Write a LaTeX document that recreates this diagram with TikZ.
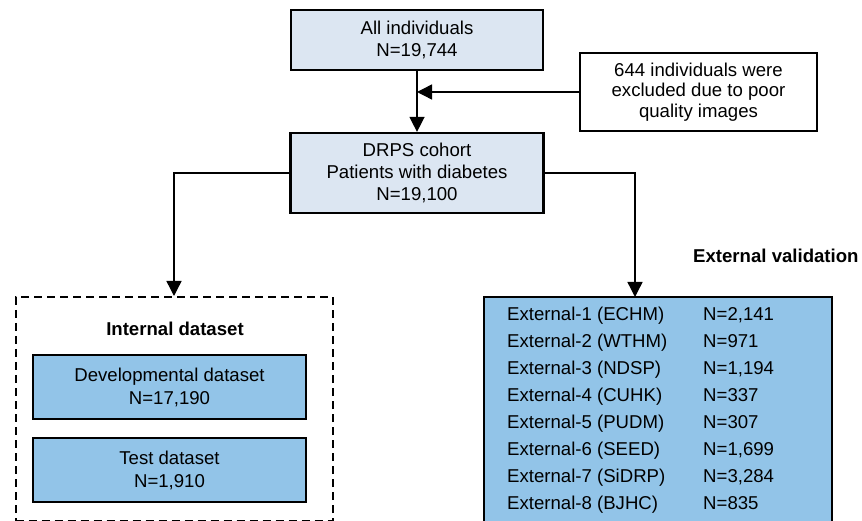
\documentclass[tikz,border=0pt]{standalone}
\usepackage{fontspec}
\setmainfont{Liberation Sans}
\usetikzlibrary{arrows.meta}
\definecolor{lightbox}{RGB}{220,230,242}
\definecolor{darkbox}{RGB}{146,196,232}
\begin{document}
\begin{tikzpicture}[x=1pt,y=-1pt,
 box/.style={draw=black, line width=2.2pt, align=center, inner sep=0pt, font=\fontsize{18.6}{22}\selectfont},
 topbox/.style={box, fill=lightbox},
 subbox/.style={box, fill=darkbox, line width=2pt},
 conn/.style={line width=1.4pt},
 arr/.style={conn, -{Triangle[length=15pt,width=15pt]}},
 lbl/.style={font=\fontsize{18.6}{22}\selectfont, inner sep=0pt, anchor=base west},
 ttl/.style={font=\bfseries\fontsize{18.6}{22}\selectfont, inner sep=0pt}]
\useasboundingbox (0,0) rectangle (862,521);
\clip (0,0) rectangle (862,521);

\node[topbox, minimum width=252pt, minimum height=60pt] (all) at (417,40) {All individuals\\N=19,744};
\node[box, fill=white, minimum width=237pt, minimum height=78pt, font=\fontsize{18.6}{20.5}\selectfont] (excl) at (698.5,92) {644 individuals were\\excluded due to poor\\quality images};
\node[topbox, minimum width=253pt, minimum height=80pt] (drps) at (417,173) {DRPS cohort\\Patients with diabetes\\N=19,100};

\draw[arr] (all) -- (drps);
\draw[arr] (excl.west) -- (excl.west -| all.south);

\node[draw=black, line width=2pt, dash pattern=on 8pt off 5pt, minimum width=317pt, minimum height=224pt, inner sep=0pt] (intbox) at (174,409) {};
\node[ttl] (inttitle) at (175,329) {Internal dataset};
\node[subbox, minimum width=273pt, minimum height=64pt, font=\fontsize{18.6}{23}\selectfont] (dev) at (169.5,387) {Developmental dataset\\N=17,190};
\node[subbox, minimum width=273pt, minimum height=64pt, font=\fontsize{18.6}{23}\selectfont] (test) at (169.5,470) {Test dataset\\N=1,910};

\node[subbox, line width=2.2pt, minimum width=348pt, minimum height=228pt] (extbox) at (658,411) {};
\node[ttl, anchor=base west] (exttitle) at (693,263) {External validation};
\coordinate (extin) at (635,297);

\draw[arr] (drps.west) -| (intbox.north);
\draw[arr] (drps.east) -| (extin);

\foreach \i/\name/\n in {1/ECHM/2{,}141, 2/WTHM/971, 3/NDSP/1{,}194, 4/CUHK/337, 5/PUDM/307, 6/SEED/1{,}699, 7/SiDRP/3{,}284, 8/BJHC/835}{
  \node[lbl] (site\i) at (507,{320+27.14*(\i-1)}) {External-\i\ (\name)};
  \node[lbl] (num\i) at (703,{320+27.14*(\i-1)}) {N=\n};
}
\end{tikzpicture}
\end{document}
